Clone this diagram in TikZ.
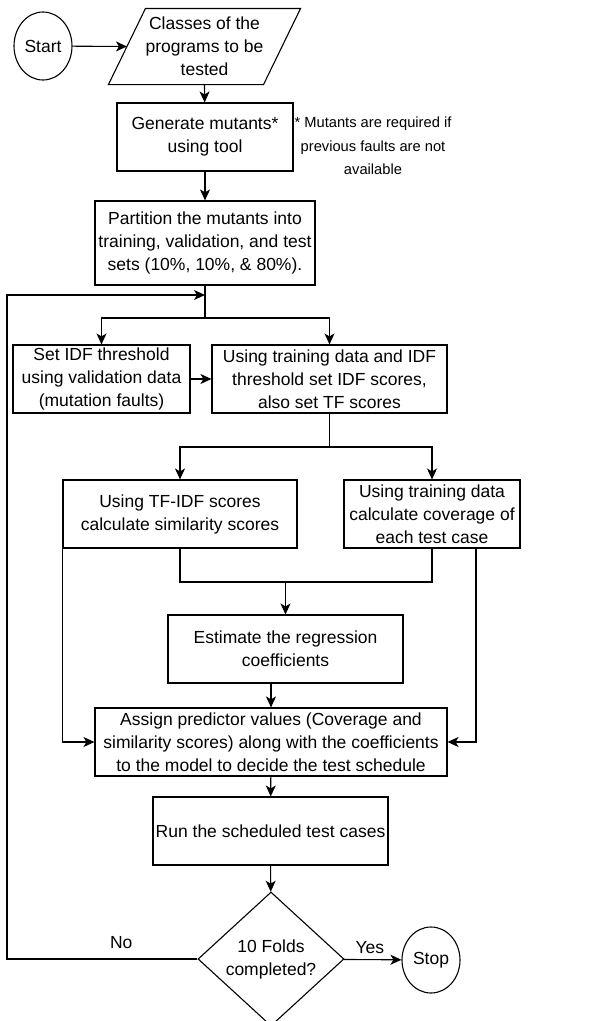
\documentclass[tikz,border=0pt]{standalone}
\usepackage{fontspec}
\setmainfont{Liberation Sans}
\usetikzlibrary{arrows.meta,shapes.geometric}
\tikzset{
  procbox/.style={draw,rectangle,minimum height=68,inner sep=0,align=center},
  termnode/.style={draw,ellipse,minimum width=58,inner sep=0},
  flow/.style={-{Stealth[length=11pt,width=10pt,inset=3pt]}},
}
\begin{document}
\begin{tikzpicture}[x=1pt,y=-1pt,line width=1.1pt,font=\fontsize{17.5}{23}\selectfont]
\useasboundingbox (0,0) rectangle (600,1021);
\node[termnode,minimum height=68] (start) at (43,46) {Start};
\node[minimum width=191,minimum height=75,inner sep=0,align=center] (classes) at (204.5,46.5)
  {Classes of the\\programs to be\\tested};
\draw (classes.south west) -- ([xshift=37]classes.north west) -- (classes.north east)
  -- ([xshift=-37]classes.south east) -- cycle;
\node[procbox,minimum width=176] (generate) at (205,137) {Generate mutants*\\using tool};
\node[align=center,font=\fontsize{14.7}{23.5}\selectfont] (note) at (373,146)
  {* Mutants are required if\\previous faults are not\\available};
\node[procbox,minimum width=220,minimum height=84] (partition) at (205,243)
  {Partition the mutants into\\training, validation, and test\\sets (10\%, 10\%, \& 80\%).};
\node[procbox,minimum width=177] (setidf) at (101.5,379)
  {Set IDF threshold\\using validation data\\(mutation faults)};
\node[procbox,minimum width=235] (usetrain) at (329.5,379)
  {Using training data and IDF\\threshold set IDF scores,\\also set TF scores};
\node[procbox,minimum width=234] (tfidf) at (180,514)
  {Using TF-IDF scores\\calculate similarity scores};
\node[procbox,minimum width=176] (coverage) at (432,514)
  {Using training data\\calculate coverage of\\each test case};
\node[procbox,minimum width=235] (estimate) at (285.5,649)
  {Estimate the regression\\coefficients};
\node[procbox,minimum width=352] (assign) at (271,742)
  {Assign predictor values (Coverage and\\similarity scores) along with the coefficients\\to the model to decide the test schedule};
\node[procbox,minimum width=235] (run) at (270.5,831) {Run the scheduled test cases};
\node[draw,diamond,minimum width=146,minimum height=134,inner sep=0,align=center] (folds) at (271,959)
  {10 Folds\\completed?};
\node[termnode,minimum height=66] (stop) at (431,960) {Stop};
\coordinate (loopin) at (205,295);
\coordinate (split1) at (205,318);
\coordinate (split2) at (329.5,447);
\coordinate (merge) at (285.5,582);
\coordinate (back) at (7,959);

\draw[flow] (start) -- ([xshift=18.5]classes.west);
\draw[flow] (classes.south) -- (generate);
\draw[flow] (generate) -- (partition);
\draw (partition) -- (split1);
\draw[flow] (split1) -| (setidf);
\draw[flow] (split1) -| (usetrain);
\draw[flow] (setidf) -- (usetrain);
\draw (usetrain) -- (split2);
\draw[flow] (split2) -| (tfidf);
\draw[flow] (split2) -| (coverage);
\draw (tfidf) |- (merge);
\draw (coverage) |- (merge);
\draw[flow] (merge) -- (estimate);
\draw[flow] (estimate.south -| assign.north) -- (assign);
\draw[flow] (tfidf.south west) |- (assign.west);
\draw[flow] ([xshift=44]coverage.south) |- (assign.east);
\draw[flow] (assign) -- (run);
\draw[flow] (run) -- (folds);
\draw[flow] (folds) -- node[above,pos=0.45,yshift=2]{Yes} (stop);
\draw[flow] (folds) -- node[above,pos=0.4,yshift=6]{No} (back) |- (loopin);
\end{tikzpicture}
\end{document}
